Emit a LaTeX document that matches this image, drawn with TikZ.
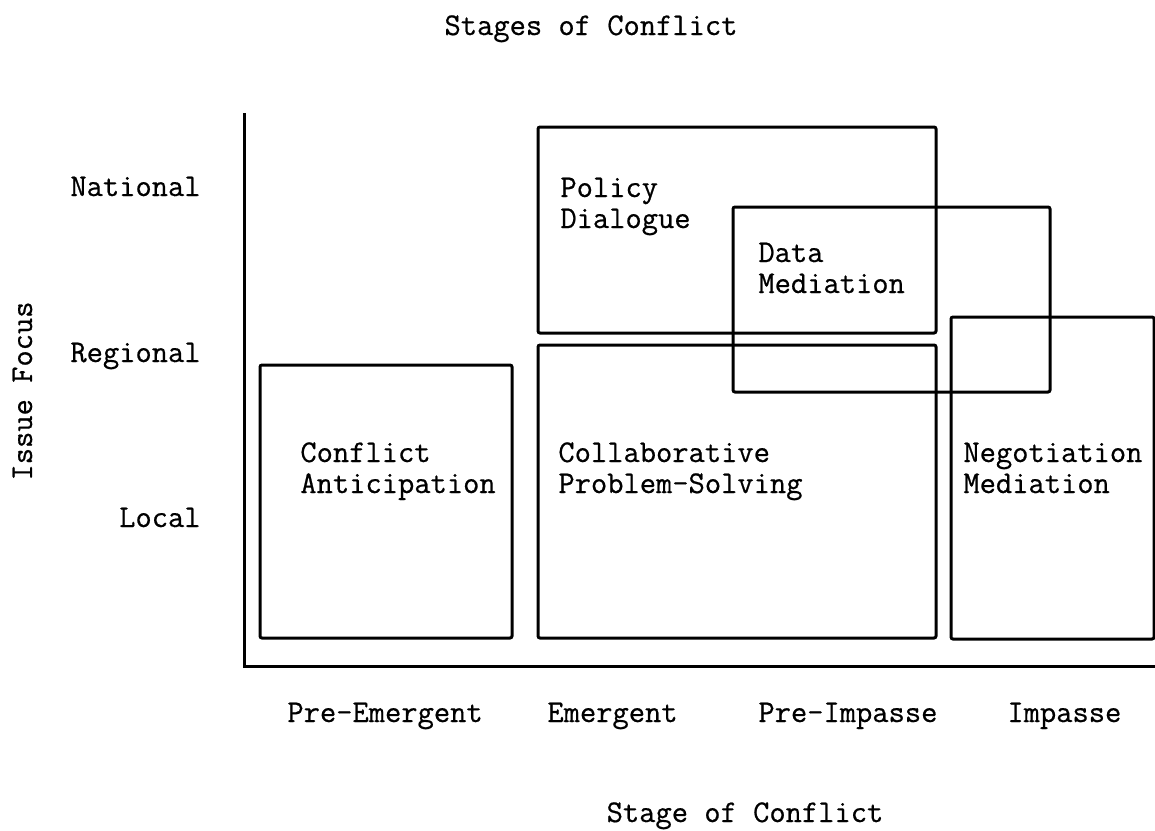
\documentclass[tikz,border=0pt]{standalone}
\usepackage{fontspec}
\setmonofont[FakeBold=0.6]{Latin Modern Mono}
\begin{document}
\begin{tikzpicture}[x=0.5pt,y=-0.5pt,
  lbl/.style={font=\ttfamily\fontsize{15.8}{15.5}\selectfont, inner sep=0pt},
  box/.style={draw=black, line width=1.5pt, rounded corners=1pt},
  axis/.style={draw=black, line width=1.5pt}]
\useasboundingbox (0,0) rectangle (1155,830);

% axes
\draw[axis] (244,113) -- (244,666) -- (1160,666);

% regions of the chart
\draw[box] (260,365) rectangle (512,638);   % conflict anticipation
\draw[box] (538,127) rectangle (936,333);   % policy dialogue
\draw[box] (538,345) rectangle (936,638);   % collaborative problem-solving
\draw[box] (733,207) rectangle (1050,392);  % data mediation
\draw[box] (951,317) rectangle (1154,639);  % negotiation / mediation

% titles
\node[lbl, anchor=base] (title) at (591,35) {Stages of Conflict};
\node[lbl, anchor=base] (xtitle) at (745,822) {Stage of Conflict};
\node[lbl, anchor=base, rotate=90] (ytitle) at (32,391) {Issue Focus};

% vertical scale
\node[lbl, anchor=base east] (nat) at (201,196) {National};
\node[lbl, anchor=base east] (reg) at (201,362) {Regional};
\node[lbl, anchor=base east] (loc) at (201,527) {Local};

% horizontal scale
\node[lbl, anchor=base west] (preem) at (287,722) {Pre-Emergent};
\node[lbl, anchor=base west] (em) at (547,722) {Emergent};
\node[lbl, anchor=base west] (preimp) at (758,722) {Pre-Impasse};
\node[lbl, anchor=base west] (imp) at (1007,722) {Impasse};

% region labels
\node[lbl, anchor=base west] (ca) at (300,462) {\vtop{\hbox{Conflict}\hbox{Anticipation}}};
\node[lbl, anchor=base west] (cps) at (558,462) {\vtop{\hbox{Collaborative}\hbox{Problem-Solving}}};
\node[lbl, anchor=base west] (pd) at (560,197) {\vtop{\hbox{Policy}\hbox{Dialogue}}};
\node[lbl, anchor=base west] (dm) at (758,262) {\vtop{\hbox{Data}\hbox{Mediation}}};
\node[lbl, anchor=base west] (nm) at (963,462) {\vtop{\hbox{Negotiation}\hbox{Mediation}}};
\end{tikzpicture}
\end{document}
